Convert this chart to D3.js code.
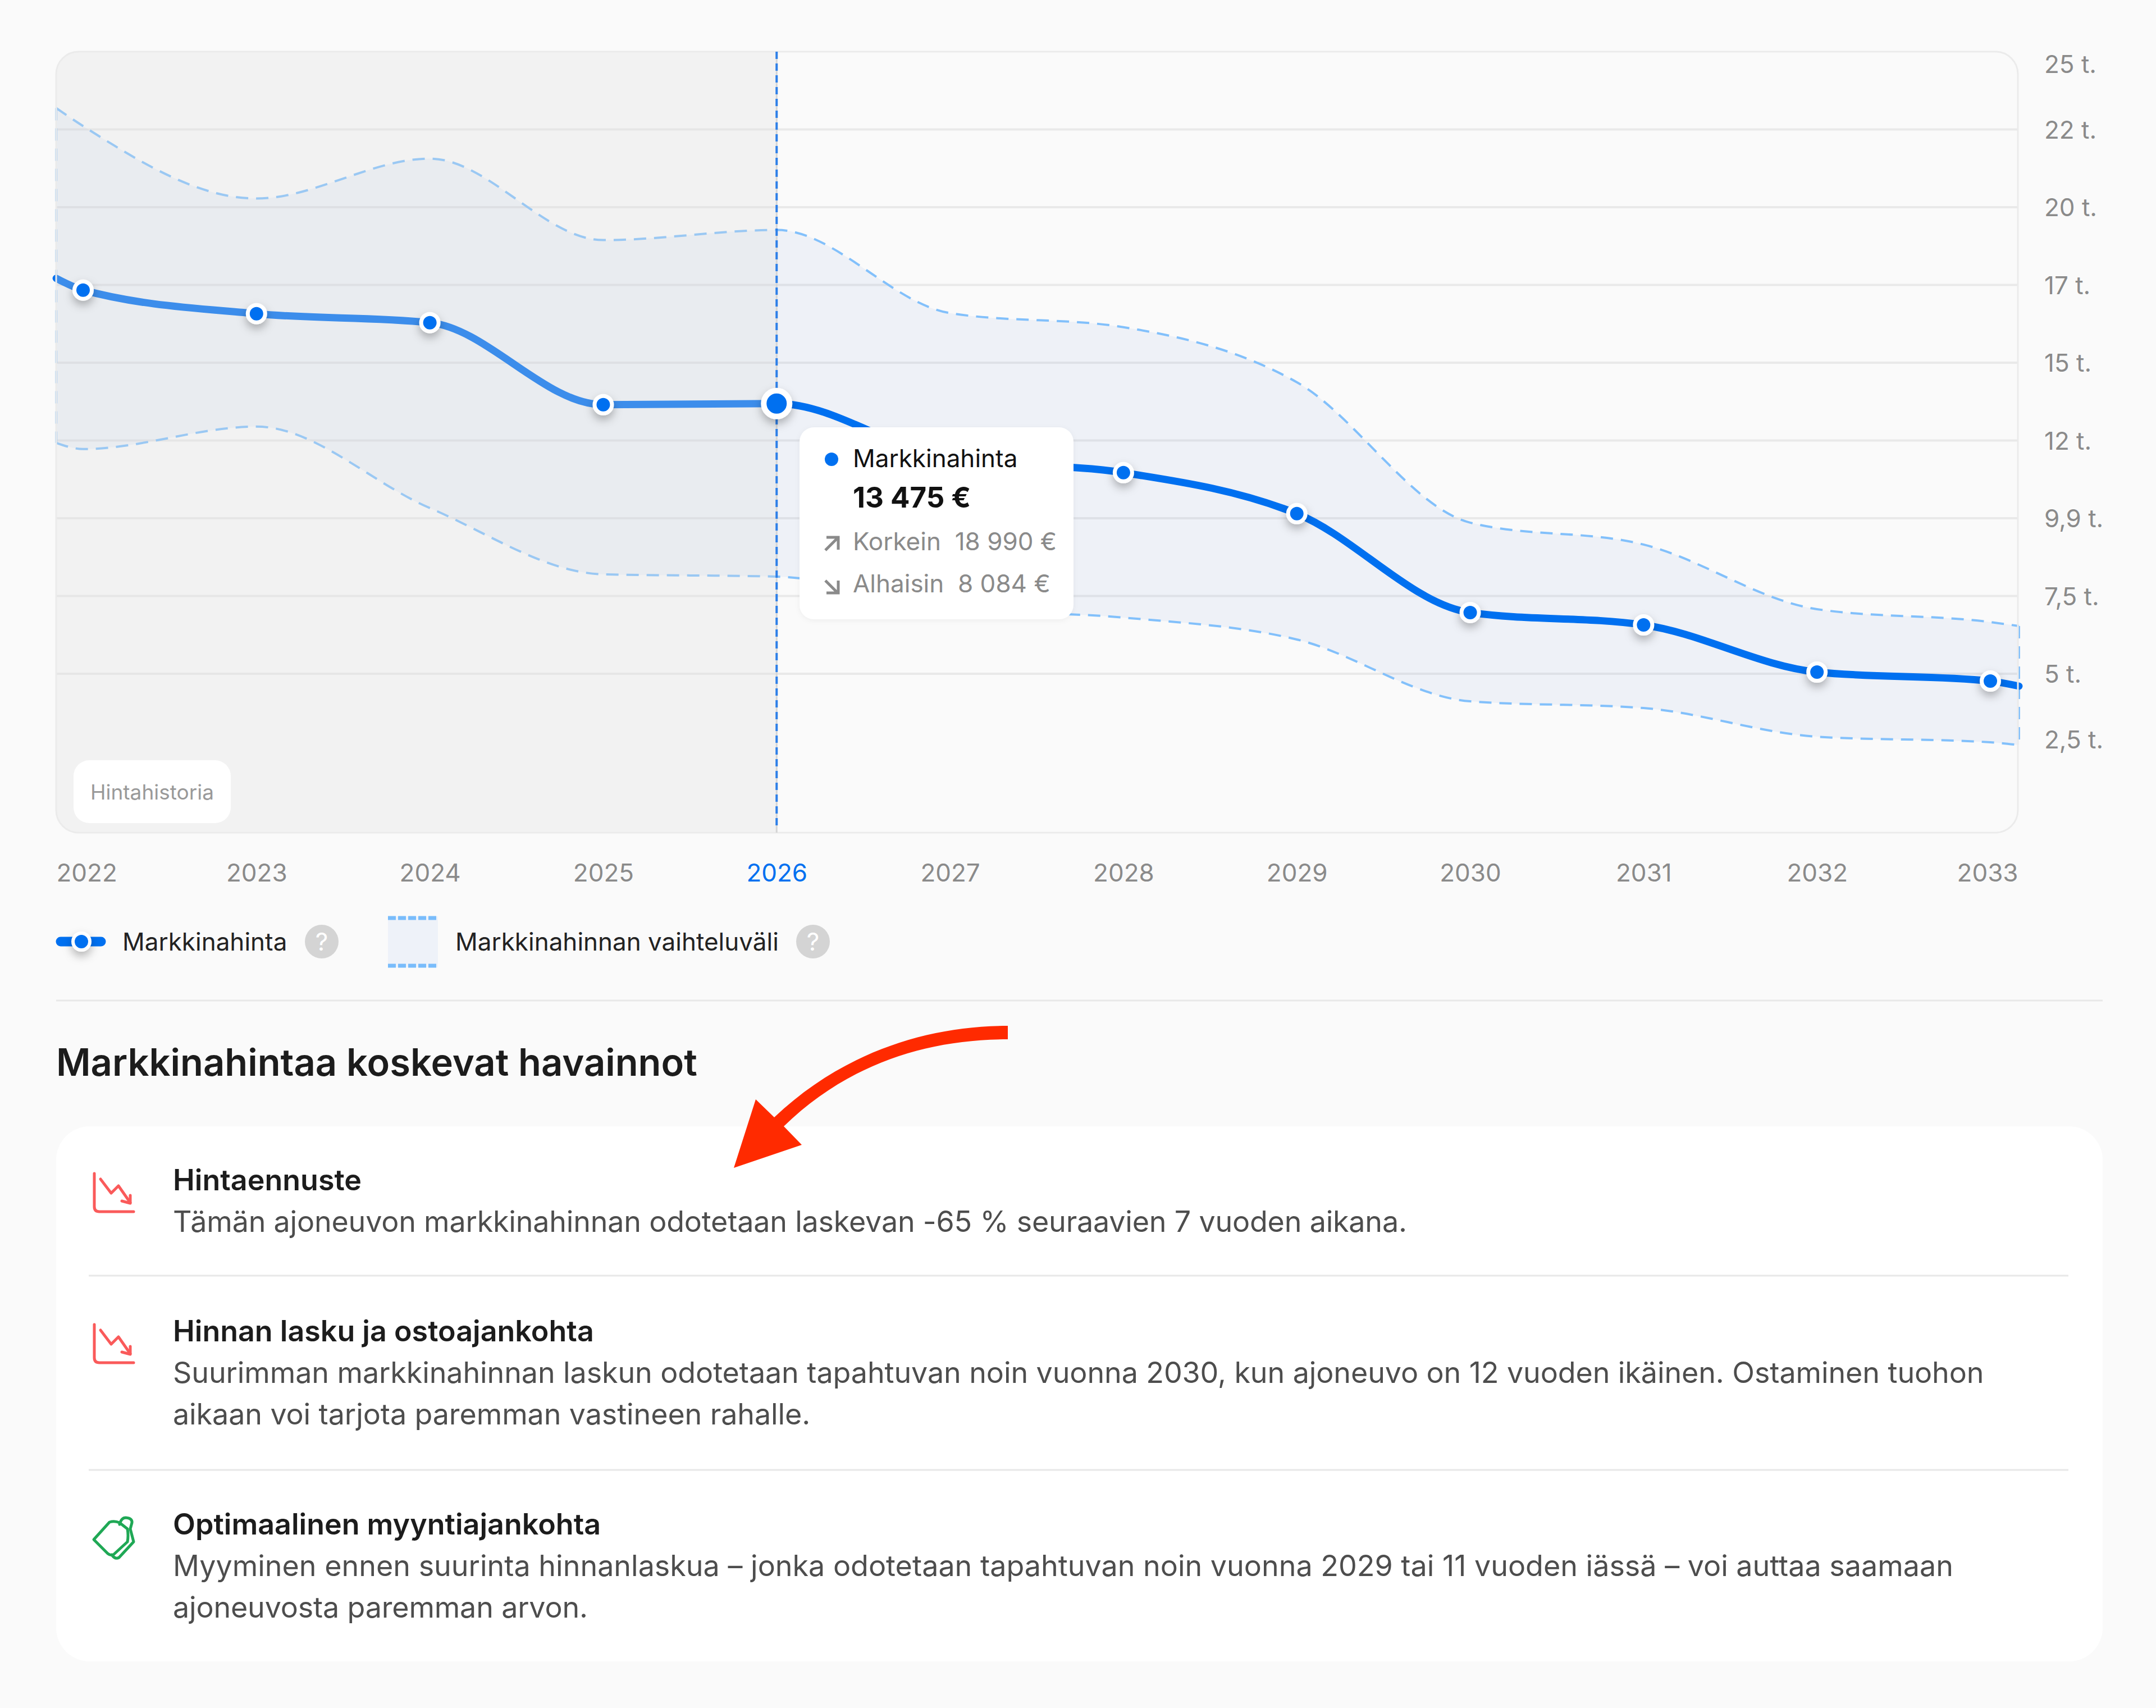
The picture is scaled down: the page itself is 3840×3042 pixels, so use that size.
<!DOCTYPE html>
<html>
<head>
<meta charset="utf-8">
<script src="https://cdn.jsdelivr.net/npm/d3@7"></script>
<style>
  html, body { margin: 0; padding: 0; background: #fafafa; }
  svg { display: block; font-family: Inter, sans-serif; }
</style>
</head>
<body>
<svg id="chart"></svg>
<script>
// chart data
const years = [2022, 2023, 2024, 2025, 2026, 2027, 2028, 2029, 2030, 2031, 2032, 2033];
const edgeYears = [2021.845, ...years, 2033.165];
const market = [17714, 17335, 16576, 16288, 13651, 13687, 11899, 11465, 10147, 6969, 6571, 5054, 4765, 4603];
const upper = [23186, 22608, 20279, 21561, 18942, 19267, 16595, 16143, 14373, 9858, 9154, 7077, 6662, 6535];
const lower = [12423, 12224, 12946, 10328, 8197, 8124, 7113, 6806, 6102, 4115, 3898, 2977, 2797, 2706];
const hidden = [2027];
const activeYear = 2026;
const gridValues = [5000, 7500, 10000, 12500, 15000, 17500, 20000, 22500];
const tickValues = [2500, 5000, 7500, 10000, 12500, 15000, 17500, 20000, 22500, 25000];
const tickLabels = ['2,5 t.', '5 t.', '7,5 t.', '9,9 t.', '12 t.', '15 t.', '17 t.', '20 t.', '22 t.', '25 t.'];

const insights = [
  { icon: 'down', title: 'Hintaennuste', y: 2120, spacing: [-0.2],
    lines: ['Tämän ajoneuvon markkinahinnan odotetaan laskevan -65 % seuraavien 7 vuoden aikana.'] },
  { icon: 'down', title: 'Hinnan lasku ja ostoajankohta', y: 2389, spacing: [-0.1, -0.1],
    lines: ['Suurimman markkinahinnan laskun odotetaan tapahtuvan noin vuonna 2030, kun ajoneuvo on 12 vuoden ikäinen. Ostaminen tuohon',
            'aikaan voi tarjota paremman vastineen rahalle.'] },
  { icon: 'tag', title: 'Optimaalinen myyntiajankohta', y: 2733, spacing: [0, -0.18],
    lines: ['Myyminen ennen suurinta hinnanlaskua – jonka odotetaan tapahtuvan noin vuonna 2029 tai 11 vuoden iässä – voi auttaa saamaan',
            'ajoneuvosta paremman arvon.'] }
];

const width = 3840, height = 3042;
const blue = '#0070f0', grey = '#8a8a8a';
const plot = { left: 100, right: 3594, top: 92, bottom: 1483 };

const svg = d3.select('#chart').attr('width', width).attr('height', height).attr('viewBox', `0 0 ${width} ${height}`);
svg.append('rect').attr('width', width).attr('height', height).attr('fill', '#fafafa');

const x = d3.scaleLinear().domain([2022, 2033]).range([148, 3545]);
const y = d3.scaleLinear().domain([0, 25000]).range([1477, 92]);

const defs = svg.append('defs');
defs.append('clipPath').attr('id', 'plotClip').append('rect')
  .attr('x', plot.left).attr('y', plot.top)
  .attr('width', plot.right - plot.left).attr('height', plot.bottom - plot.top).attr('rx', 40);
const shadow = defs.append('filter').attr('id', 'dotShadow')
  .attr('x', '-100%').attr('y', '-100%').attr('width', '300%').attr('height', '300%');
shadow.append('feDropShadow').attr('dx', 0).attr('dy', 8).attr('stdDeviation', 8)
  .attr('flood-color', '#000').attr('flood-opacity', 0.28);
const cardShadow = defs.append('filter').attr('id', 'cardShadow')
  .attr('x', '-10%').attr('y', '-10%').attr('width', '120%').attr('height', '120%');
cardShadow.append('feDropShadow').attr('dx', 0).attr('dy', 2).attr('stdDeviation', 5)
  .attr('flood-color', '#000').attr('flood-opacity', 0.05);

// grid
svg.append('g').attr('clip-path', 'url(#plotClip)').selectAll('line').data(gridValues).enter().append('line')
  .attr('x1', plot.left).attr('x2', plot.right)
  .attr('y1', d => y(d)).attr('y2', d => y(d))
  .attr('stroke', '#e9e9e9').attr('stroke-width', 4);

// band
const rows = edgeYears.map((yr, i) => ({ yr, market: market[i], upper: upper[i], lower: lower[i] }));
const area = d3.area().curve(d3.curveMonotoneX).x(d => x(d.yr)).y0(d => y(d.lower)).y1(d => y(d.upper));
const lineOf = key => d3.line().curve(d3.curveMonotoneX).x(d => x(d.yr)).y(d => y(d[key]));

svg.append('path').attr('d', area(rows)).attr('fill', '#2a5fd0').attr('fill-opacity', 0.055);
['upper', 'lower'].forEach(key => {
  svg.append('path').attr('d', lineOf(key)(rows)).attr('fill', 'none')
    .attr('stroke', '#82c0fb').attr('stroke-width', 4).attr('stroke-dasharray', '22 14');
});
[rows[0], rows[rows.length - 1]].forEach(d => {
  svg.append('line').attr('x1', x(d.yr)).attr('x2', x(d.yr))
    .attr('y1', y(d.upper)).attr('y2', y(d.lower))
    .attr('stroke', '#82c0fb').attr('stroke-width', 4).attr('stroke-dasharray', '22 14');
});

// market price line
svg.append('path').attr('d', lineOf('market')(rows)).attr('fill', 'none')
  .attr('stroke', blue).attr('stroke-width', 13).attr('stroke-linecap', 'round');

// history shade goes over the line, so the line looks paler there
svg.append('rect').attr('clip-path', 'url(#plotClip)')
  .attr('x', plot.left).attr('y', plot.top)
  .attr('width', x(activeYear) - plot.left).attr('height', plot.bottom - plot.top)
  .attr('fill', '#dddddd').attr('fill-opacity', 0.27);

// plot frame
svg.append('rect')
  .attr('x', plot.left).attr('y', plot.top)
  .attr('width', plot.right - plot.left).attr('height', plot.bottom - plot.top).attr('rx', 40)
  .attr('fill', 'none').attr('stroke', '#ebebeb').attr('stroke-width', 3);

// active year marker
svg.append('line').attr('x1', x(activeYear)).attr('x2', x(activeYear))
  .attr('y1', plot.top).attr('y2', plot.bottom)
  .attr('stroke', '#d5d5d5').attr('stroke-width', 3);
svg.append('line').attr('x1', x(activeYear)).attr('x2', x(activeYear))
  .attr('y1', plot.top).attr('y2', plot.bottom - 8)
  .attr('stroke', '#2d7fe8').attr('stroke-width', 4).attr('stroke-dasharray', '13 8');

// dots
const dotRows = rows.filter(d => years.includes(d.yr) && !hidden.includes(d.yr));
svg.append('g').selectAll('circle').data(dotRows).enter().append('circle')
  .attr('cx', d => x(d.yr)).attr('cy', d => y(d.market))
  .attr('r', d => d.yr === activeYear ? 23 : 15.5)
  .attr('fill', blue).attr('stroke', '#fff')
  .attr('stroke-width', d => d.yr === activeYear ? 10 : 7)
  .attr('filter', 'url(#dotShadow)');

// history chip
svg.append('rect').attr('x', 131).attr('y', 1354).attr('width', 280).attr('height', 112).attr('rx', 28).attr('fill', '#fff');
svg.append('text').attr('x', 161).attr('y', 1424).attr('font-size', 37).attr('fill', '#999').text('Hintahistoria');

// axes
const xAxis = svg.append('g').attr('transform', 'translate(0,1570)')
  .call(d3.axisBottom(x).tickValues(years).tickFormat(d3.format('d')).tickSize(0).tickPadding(0));
xAxis.select('.domain').remove();
xAxis.selectAll('text').attr('y', 0).attr('dy', 0)
  .attr('font-family', 'Inter, sans-serif').attr('font-size', 44)
  .attr('fill', d => d === activeYear ? blue : grey)
  .attr('text-anchor', d => d === 2022 ? 'start' : d === 2033 ? 'end' : 'middle')
  .attr('x', d => d === 2022 ? plot.left - x(d) : d === 2033 ? plot.right - x(d) : 0);

const yAxis = svg.append('g').attr('transform', 'translate(3641,0)')
  .call(d3.axisRight(y).tickValues(tickValues).tickFormat((d, i) => tickLabels[i]).tickSize(0).tickPadding(0));
yAxis.select('.domain').remove();
yAxis.selectAll('text').attr('x', 0).attr('dy', '0.36em')
  .attr('y', d => d === 25000 ? 22 : d === 2500 ? -22 : 0)
  .attr('font-family', 'Inter, sans-serif').attr('font-size', 44).attr('fill', grey);

// tooltip
const tip = svg.append('g');
tip.append('rect').attr('x', 1424).attr('y', 761).attr('width', 488).attr('height', 342).attr('rx', 26)
  .attr('fill', '#fff').attr('filter', 'url(#cardShadow)');
tip.append('circle').attr('cx', 1481).attr('cy', 818).attr('r', 12).attr('fill', blue);
tip.append('text').attr('x', 1519).attr('y', 832).attr('font-size', 44).attr('fill', '#111').text('Markkinahinta');
tip.append('text').attr('x', 1519).attr('y', 904).attr('font-size', 51).attr('font-weight', 700).attr('fill', '#111').text('13 475 €');
tip.append('text').attr('x', 1519).attr('y', 980).attr('font-size', 44).attr('fill', grey).text('Korkein\u00a0\u00a018 990 €');
tip.append('text').attr('x', 1519).attr('y', 1055).attr('font-size', 44).attr('fill', grey).text('Alhaisin\u00a0\u00a08 084 €');
const arrows = tip.append('g').attr('fill', 'none').attr('stroke', grey).attr('stroke-width', 5);
arrows.append('path').attr('d', 'M1470 980 L1492 958 M1472 957 L1493 957 L1493 979');
arrows.append('path').attr('d', 'M1470 1034 L1492 1056 M1472 1056 L1493 1056 L1493 1034');

// legend
svg.append('line').attr('x1', 108).attr('x2', 180).attr('y1', 1677).attr('y2', 1677)
  .attr('stroke', blue).attr('stroke-width', 17).attr('stroke-linecap', 'round');
svg.append('circle').attr('cx', 145).attr('cy', 1677).attr('r', 15).attr('fill', blue)
  .attr('stroke', '#fff').attr('stroke-width', 6).attr('filter', 'url(#dotShadow)');
svg.append('text').attr('x', 218).attr('y', 1693).attr('font-size', 44).attr('fill', '#222').text('Markkinahinta');
svg.append('rect').attr('x', 691).attr('y', 1632).attr('width', 89).attr('height', 91).attr('fill', '#eef2f9');
[1635, 1720].forEach(ly => {
  svg.append('line').attr('x1', 691).attr('x2', 780).attr('y1', ly).attr('y2', ly)
    .attr('stroke', '#79bcfb').attr('stroke-width', 7).attr('stroke-dasharray', '14 4');
});
svg.append('text').attr('x', 811).attr('y', 1693).attr('font-size', 44).attr('fill', '#222').text('Markkinahinnan vaihteluväli');
[573, 1448].forEach(cx => {
  svg.append('circle').attr('cx', cx).attr('cy', 1677).attr('r', 30).attr('fill', '#d4d4d4');
  svg.append('text').attr('x', cx).attr('y', 1693).attr('text-anchor', 'middle')
    .attr('font-size', 44).attr('fill', '#fff').text('?');
});

// divider and heading
svg.append('line').attr('x1', 100).attr('x2', 3745).attr('y1', 1782).attr('y2', 1782)
  .attr('stroke', '#e8e8e8').attr('stroke-width', 3);
svg.append('text').attr('x', 100).attr('y', 1916).attr('font-size', 66.8).attr('font-weight', 600).attr('fill', '#1c1c1c')
  .text('Markkinahintaa koskevat havainnot');

// card
svg.append('rect').attr('x', 100).attr('y', 2006).attr('width', 3645).attr('height', 953).attr('rx', 60).attr('fill', '#fff');
[2272, 2618].forEach(ly => {
  svg.append('line').attr('x1', 158).attr('x2', 3684).attr('y1', ly).attr('y2', ly)
    .attr('stroke', '#e8e8e8').attr('stroke-width', 3);
});

const drawIcon = (kind, dy) => {
  const g = svg.append('g').attr('transform', `translate(0,${dy})`).attr('fill', 'none')
    .attr('stroke-width', 5).attr('stroke-linejoin', 'round').attr('stroke-linecap', 'round');
  if (kind === 'down') {
    g.attr('stroke', '#fa5a5a');
    g.append('path').attr('d', 'M168 2090 L168 2149 Q168 2158 177 2158 L238 2158');
    g.append('path').attr('d', 'M179 2100 L198 2125 L211 2112 L232 2142');
    g.append('path').attr('d', 'M217 2139 L232 2143 L232 2129');
  } else {
    g.attr('stroke', '#1fa855');
    g.append('path').attr('d', 'M167 2742 L195 2711 Q204 2708 213 2712 L227 2723 Q229 2735 227 2746 L202 2769 Q197 2771 192 2767 Z');
    g.append('path').attr('d', 'M213 2715 Q216 2703 224 2703 Q236 2704 235 2712 L232 2723 L238 2746 L212 2774 Q205 2778 199 2769');
  }
};

insights.forEach(item => {
  drawIcon(item.icon, item.y + 2 - (item.icon === 'down' ? 2122 : 2735));
  svg.append('text').attr('x', 308).attr('y', item.y).attr('font-size', 52).attr('font-weight', 600)
    .attr('fill', '#1c1c1c').text(item.title);
  item.lines.forEach((line, i) => {
    svg.append('text').attr('x', 308).attr('y', item.y + 74 + i * 74).attr('font-size', 52)
      .attr('letter-spacing', item.spacing[i]).attr('fill', '#4d4d4d').text(line);
  });
});

// red hand drawn arrow
svg.append('path')
  .attr('d', 'M1795 1827 C1650 1827 1500 1875 1379 1990 L1346 1958 L1307 2080 L1428 2039 L1396 2006 C1510 1895 1650 1851 1795 1851 Z')
  .attr('fill', '#ff2a00');
</script>
</body>
</html>
